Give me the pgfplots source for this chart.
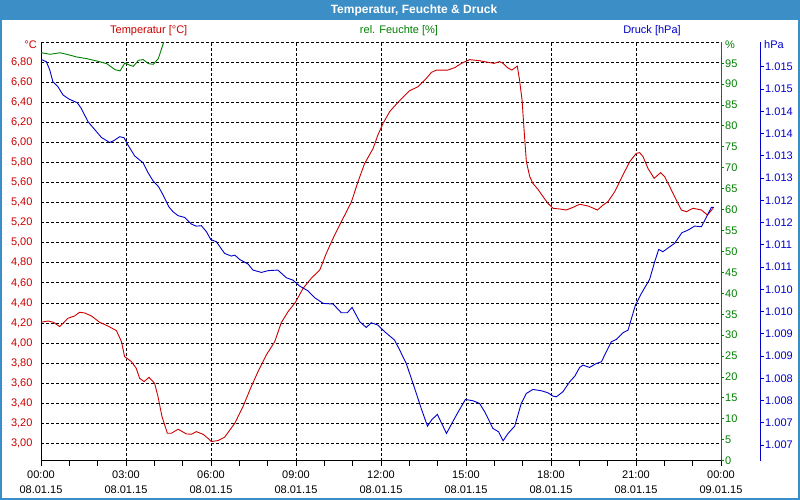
\documentclass[border=0pt]{standalone}
\usepackage{fontspec}
\setmainfont{Liberation Sans}
\usepackage{graphicx}
\usepackage{pgfplots}
\pgfplotsset{compat=1.18}
\definecolor{tblue}{RGB}{60,142,198}
\definecolor{tred}{RGB}{204,0,0}
\definecolor{tgreen}{RGB}{0,128,0}
\definecolor{pblue}{RGB}{0,0,204}
\newcommand{\lf}{\fontsize{11bp}{15bp}\selectfont}
\pgfplotsset{
  base/.style={scale only axis, width=680bp, height=418.4bp,
    at={(41bp,39.3bp)}, anchor=south west, xmin=0, xmax=24,
    /pgf/number format/assume math mode=true},
}
\begin{document}
\begin{tikzpicture}
\path[use as bounding box] (0,0) rectangle (800bp,500bp);
\fill[white] (0,0) rectangle (800bp,500bp);
\fill[tblue] (0,480bp) rectangle (800bp,500bp);
\draw[tblue,line width=2bp] (1bp,1bp) rectangle (799bp,499bp);
\node[white,font=\fontsize{12bp}{14bp}\selectfont\bfseries] at (414bp,490bp) {Temperatur, Feuchte \& Druck};
\node[tred,font=\lf] at (148.7bp,469bp) {Temperatur [°C]};
\node[tgreen,font=\lf] at (399bp,469bp) {rel. Feuchte [\%]};
\node[pblue,font=\lf] at (652bp,469bp) {Druck [hPa]};
\node[tred,font=\lf,anchor=east,inner sep=0pt] at (37bp,455bp) {°C};
\node[tgreen,font=\lf,anchor=west,inner sep=0pt] at (725bp,455bp) {\%};
\node[pblue,font=\lf,anchor=west,inner sep=0pt] at (764bp,455bp) {hPa};

% Temperature axis (main, with grid)
\begin{axis}[base,
  ymin=2.826, ymax=7.0,
  axis x line*=bottom, axis y line*=left,
  axis line style={black, line width=1bp, -},
  xtick={0,3,6,9,12,15,18,21,24}, minor x tick num=2,
  xticklabels={{00:00\\08.01.15},{03:00\\08.01.15},{06:00\\08.01.15},{09:00\\08.01.15},{12:00\\08.01.15},{15:00\\08.01.15},{18:00\\08.01.15},{21:00\\08.01.15},{00:00\\09.01.15}},
  xticklabel style={align=center, font=\lf, black, yshift=-2bp},
  tick align=outside, major tick length=5bp, minor tick length=5bp,
  x tick style={black, line width=1bp},
  y tick style={draw=none},
  ytick={3.0,3.2,3.4,3.6,3.8,4.0,4.2,4.4,4.6,4.8,5.0,5.2,5.4,5.6,5.8,6.0,6.2,6.4,6.6,6.8},
  yticklabels={{3,00},{3,20},{3,40},{3,60},{3,80},{4,00},{4,20},{4,40},{4,60},{4,80},{5,00},{5,20},{5,40},{5,60},{5,80},{6,00},{6,20},{6,40},{6,60},{6,80}},
  yticklabel style={tred, font=\lf},
  grid=major,
  major grid style={black, line width=0.8bp, dash pattern=on 3bp off 2bp},
]
\draw[black, line width=0.8bp, dash pattern=on 3bp off 2bp] (rel axis cs:0,1) -- (rel axis cs:1,1);
\addplot[tred, line width=0.9bp] coordinates {
(0,4.207)(0.25,4.22)(0.44,4.207)(0.66,4.164)(0.95,4.247)(1.19,4.27)(1.36,4.307)(1.54,4.30)(1.78,4.27)(2.07,4.207)(2.36,4.17)(2.66,4.124)(2.84,4.014)(2.95,3.864)(3.19,3.815)(3.36,3.748)(3.48,3.648)(3.64,3.615)(3.81,3.658)(4.01,3.598)(4.13,3.465)(4.27,3.266)(4.46,3.10)(4.6,3.10)(4.84,3.14)(5.13,3.093)(5.31,3.09)(5.48,3.116)(5.72,3.09)(5.89,3.05)(6.01,3.017)(6.25,3.027)(6.48,3.06)(6.84,3.2)(7.13,3.366)(7.42,3.565)(7.66,3.715)(7.95,3.88)(8.25,4.014)(8.48,4.203)(8.72,4.313)(8.98,4.406)(9.25,4.546)(9.54,4.646)(9.84,4.729)(10.07,4.895)(10.31,5.045)(10.6,5.21)(10.95,5.404)(11.19,5.61)(11.42,5.79)(11.72,5.94)(11.89,6.075)(12.07,6.19)(12.31,6.31)(12.66,6.42)(13.01,6.517)(13.31,6.557)(13.6,6.64)(13.78,6.70)(13.96,6.723)(14.36,6.723)(14.6,6.747)(14.84,6.79)(15.13,6.827)(15.48,6.816)(15.78,6.80)(15.99,6.79)(16.19,6.807)(16.31,6.79)(16.46,6.747)(16.62,6.723)(16.81,6.763)(16.89,6.623)(16.98,6.42)(17.05,6.125)(17.13,5.81)(17.25,5.66)(17.36,5.593)(17.54,5.533)(17.72,5.46)(17.89,5.394)(18.07,5.344)(18.31,5.337)(18.54,5.327)(18.78,5.354)(19.01,5.384)(19.31,5.367)(19.64,5.327)(19.84,5.377)(20.01,5.41)(20.25,5.51)(20.48,5.643)(20.78,5.81)(21.01,5.892)(21.13,5.899)(21.25,5.859)(21.42,5.743)(21.64,5.643)(21.87,5.70)(22.01,5.66)(22.19,5.56)(22.42,5.427)(22.6,5.327)(22.78,5.31)(23.01,5.344)(23.31,5.327)(23.52,5.277)(23.72,5.344)
};
\end{axis}

% Humidity axis
\begin{axis}[base,
  ymin=0, ymax=100,
  axis x line=none, axis y line*=right,
  axis line style={tgreen, line width=1bp, -},
  ytick={0,5,...,95},
  tick align=outside, major tick length=3bp,
  y tick style={tgreen, line width=1bp},
  yticklabel style={tgreen, font=\lf, inner sep=1bp},
]
\addplot[tgreen, line width=0.9bp] coordinates {
(0,97.53)(0.32,97.13)(0.67,97.5)(0.91,97.13)(1.26,96.49)(1.61,96.1)(1.96,95.54)(2.32,94.9)(2.61,93.47)(2.79,93.15)(2.96,95.06)(3.14,94.5)(3.26,94.26)(3.44,95.7)(3.61,95.86)(3.79,94.9)(3.96,94.74)(4.14,96.1)(4.32,99.8)(4.45,102)
};
\end{axis}

% Pressure data (hidden axis)
\begin{axis}[base, hide axis, ymin=1006.65, ymax=1016.05]
\addplot[pblue, line width=0.9bp] coordinates {
(0,1015.667)(0.19,1015.614)(0.31,1015.427)(0.42,1015.165)(0.6,1015.05)(0.78,1014.865)(1.01,1014.768)(1.28,1014.693)(1.42,1014.566)(1.66,1014.266)(1.89,1014.094)(2.13,1013.914)(2.42,1013.80)(2.54,1013.83)(2.78,1013.929)(2.93,1013.907)(3.07,1013.742)(3.31,1013.494)(3.6,1013.345)(3.78,1013.12)(3.95,1012.94)(4.15,1012.805)(4.31,1012.618)(4.51,1012.356)(4.66,1012.243)(4.84,1012.154)(5.07,1012.116)(5.31,1011.966)(5.48,1011.92)(5.66,1011.93)(5.84,1011.794)(5.99,1011.62)(6.19,1011.569)(6.48,1011.307)(6.72,1011.247)(6.84,1011.27)(7.01,1011.172)(7.31,1011.067)(7.48,1010.933)(7.78,1010.88)(8.02,1010.92)(8.36,1010.933)(8.66,1010.76)(8.89,1010.708)(9.13,1010.573)(9.42,1010.468)(9.66,1010.311)(9.96,1010.184)(10.31,1010.169)(10.6,1009.974)(10.81,1009.974)(10.98,1010.094)(11.25,1009.772)(11.48,1009.644)(11.66,1009.749)(11.89,1009.697)(12.07,1009.584)(12.13,1009.547)(12.48,1009.36)(12.66,1009.135)(12.89,1008.835)(13.13,1008.386)(13.42,1007.824)(13.64,1007.427)(13.8,1007.577)(13.99,1007.689)(14.31,1007.262)(14.66,1007.674)(14.98,1008.026)(15.25,1007.996)(15.48,1007.936)(15.66,1007.749)(15.95,1007.375)(16.15,1007.30)(16.31,1007.097)(16.48,1007.26)(16.72,1007.427)(16.95,1007.936)(17.13,1008.161)(17.36,1008.251)(17.66,1008.221)(17.89,1008.176)(18.07,1008.101)(18.19,1008.086)(18.42,1008.199)(18.66,1008.423)(18.84,1008.55)(19.01,1008.745)(19.13,1008.798)(19.36,1008.745)(19.6,1008.835)(19.78,1008.872)(19.95,1009.097)(20.13,1009.322)(20.31,1009.375)(20.54,1009.524)(20.72,1009.584)(20.84,1009.846)(20.98,1010.146)(21.19,1010.408)(21.48,1010.723)(21.66,1011.12)(21.8,1011.397)(21.95,1011.345)(22.19,1011.457)(22.36,1011.532)(22.62,1011.772)(22.84,1011.832)(23.07,1011.921)(23.31,1011.906)(23.52,1012.169)(23.66,1012.341)(23.75,1012.341)
};
\end{axis}

% Pressure scale axis
\begin{axis}[scale only axis, width=40bp, height=418.4bp,
  at={(720.7bp,39.3bp)}, anchor=south west,
  xmin=0, xmax=1, ymin=1006.65, ymax=1016.05,
  /pgf/number format/assume math mode=true,
  axis x line=none, axis y line*=right,
  axis line style={pblue, line width=1bp, -},
  ytick={1007,1007.5,1008,1008.5,1009,1009.5,1010,1010.5,1011,1011.5,1012,1012.5,1013,1013.5,1014,1014.5,1015,1015.5},
  yticklabels={1.007,1.007,1.008,1.008,1.009,1.009,1.010,1.010,1.011,1.011,1.012,1.012,1.013,1.013,1.014,1.014,1.015,1.015},
  tick align=outside, major tick length=3bp,
  y tick style={pblue, line width=1bp},
  yticklabel style={pblue, font=\lf, inner sep=1.3bp},
]
\end{axis}
\end{tikzpicture}
\end{document}
